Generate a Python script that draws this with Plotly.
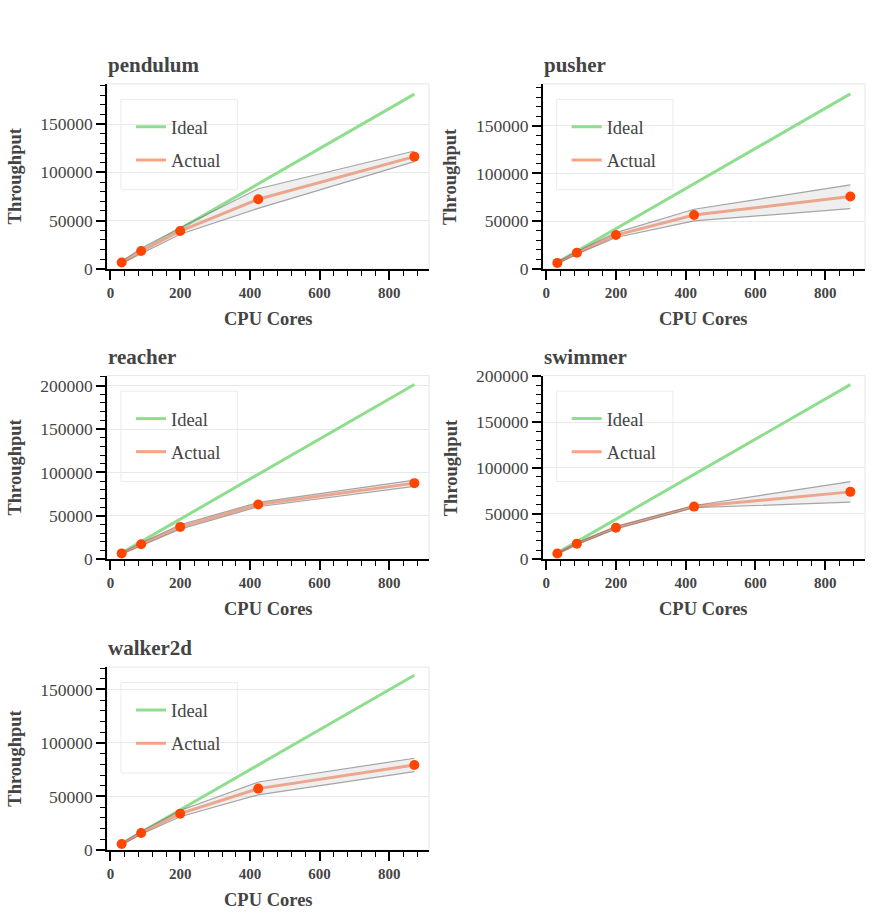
import plotly.graph_objects as go

W, H = 872, 915

cores = [32, 88, 200, 424, 872]
envs = ["pendulum", "pusher", "reacher", "swimmer", "walker2d"]

ideal_pendulum = [6650, 18290, 41560, 88100, 181100]
mean_pendulum = [6600, 18400, 39200, 72100, 116300]
upper_pendulum = [7600, 21300, 42500, 83000, 122200]
lower_pendulum = [5600, 15600, 35800, 62700, 111100]

ideal_pusher = [6730, 18520, 42080, 89230, 183500]
mean_pusher = [6200, 16800, 35400, 56500, 75800]
upper_pusher = [7000, 18200, 37900, 62500, 88100]
lower_pusher = [5400, 15400, 32800, 50200, 63200]

ideal_reacher = [7390, 20310, 46160, 97850, 201300]
mean_reacher = [6800, 17300, 37300, 63000, 87700]
upper_reacher = [7500, 18800, 39800, 65500, 91200]
lower_reacher = [6100, 15800, 34800, 60500, 84000]

ideal_swimmer = [7000, 19260, 43780, 92820, 190900]
mean_swimmer = [6400, 17100, 34600, 57600, 73700]
upper_swimmer = [7000, 17900, 36000, 58800, 85000]
lower_swimmer = [5800, 16300, 33200, 56400, 62400]

ideal_walker2d = [5990, 16480, 37450, 79410, 163300]
mean_walker2d = [5500, 15900, 33900, 57300, 79400]
upper_walker2d = [6200, 17200, 36800, 63500, 85700]
lower_walker2d = [4800, 14600, 31000, 51500, 73200]

ideals = [ideal_pendulum, ideal_pusher, ideal_reacher, ideal_swimmer, ideal_walker2d]
means = [mean_pendulum, mean_pusher, mean_reacher, mean_swimmer, mean_walker2d]
uppers = [upper_pendulum, upper_pusher, upper_reacher, upper_swimmer, upper_walker2d]
lowers = [lower_pendulum, lower_pusher, lower_reacher, lower_swimmer, lower_walker2d]

y_ranges = [[-200, 191800], [-200, 194000], [-200, 211500], [-200, 200800], [-300, 170900]]

FONT = "Liberation Serif"
TXT = "#444444"

col_x = [(107, 429), (542.7, 865)]
row_y = [(83, 268.3), (375, 559), (666.7, 850)]
positions = [(0, 0), (1, 0), (0, 1), (1, 1), (0, 2)]

# screen-to-page compensation (the page is photographed slightly squeezed vertically)
Y_OFF, Y_SCALE = 8.1, 0.98


def px_x(p):
    return p / W


def px_y(p):
    return 1 - ((p - Y_OFF) / Y_SCALE) / H


fig = go.Figure()
annotations = []
shapes = []
layout = {}

for i, name in enumerate(envs):
    c, r = positions[i]
    x0, x1 = col_x[c]
    yt, yb = row_y[r]
    sfx = "" if i == 0 else str(i + 1)
    xa, ya = "x" + sfx, "y" + sfx
    lg = "legend" + sfx

    fig.add_trace(go.Scatter(x=cores, y=ideals[i], mode="lines", name="Ideal",
                             line=dict(color="#8fde8f", width=3), xaxis=xa, yaxis=ya,
                             legend=lg, legendgroup=f"ideal{i}", hoverinfo="skip"))
    fig.add_trace(go.Scatter(x=cores, y=means[i], mode="lines", name="Actual",
                             line=dict(color="#fba283", width=3), xaxis=xa, yaxis=ya,
                             legend=lg, legendgroup=f"actual{i}", hoverinfo="skip"))
    fig.add_trace(go.Scatter(x=cores, y=uppers[i], mode="lines", showlegend=False,
                             line=dict(color="rgba(110,110,110,0.6)", width=1.2),
                             xaxis=xa, yaxis=ya, hoverinfo="skip"))
    fig.add_trace(go.Scatter(x=cores, y=lowers[i], mode="lines", showlegend=False,
                             fill="tonexty", fillcolor="rgba(180,180,180,0.22)",
                             line=dict(color="rgba(110,110,110,0.6)", width=1.2),
                             xaxis=xa, yaxis=ya, hoverinfo="skip"))
    fig.add_trace(go.Scatter(x=cores, y=means[i], mode="markers", showlegend=False,
                             marker=dict(color="#ff4500", size=10),
                             xaxis=xa, yaxis=ya, hoverinfo="skip"))

    xkey = "xaxis" + sfx
    ykey = "yaxis" + sfx
    layout[xkey] = dict(
        domain=[px_x(x0), px_x(x1)], anchor=ya, range=[-10, 914],
        tickvals=[0, 200, 400, 600, 800], ticks="outside", ticklen=9, tickwidth=1.5,
        tickcolor="black", showline=True, linecolor="black", linewidth=1.5,
        showgrid=False, zeroline=False,
        tickfont=dict(family=FONT, size=15, color=TXT, weight="bold"),
        minor=dict(dtick=40, tick0=0, ticks="outside", ticklen=5, tickwidth=1,
                   tickcolor="black", showgrid=False),
    )
    layout[ykey] = dict(
        domain=[px_y(yb), px_y(yt)], anchor=xa, range=y_ranges[i],
        dtick=50000, tick0=0, tickformat="d", ticks="outside", ticklen=9, tickwidth=1.5,
        tickcolor="black", showline=True, linecolor="black", linewidth=1.5,
        showgrid=True, gridcolor="#e8e8e8", gridwidth=1, zeroline=False,
        tickfont=dict(family=FONT, size=17.5, color=TXT),
        minor=dict(dtick=10000, tick0=0, ticks="outside", ticklen=5, tickwidth=1,
                   tickcolor="black", showgrid=False),
    )
    layout[lg] = dict(
        x=px_x(x0 + 24), y=px_y(yt + 43 - 18.5), xanchor="left", yanchor="top",
        xref="paper", yref="paper", bgcolor="rgba(0,0,0,0)", borderwidth=0,
        font=dict(family=FONT, size=18.5, color=TXT), tracegroupgap=6,
    )
    shapes.append(dict(type="rect", xref="paper", yref="paper",
                       x0=px_x(x0), x1=px_x(x1), y0=px_y(yb), y1=px_y(yt),
                       line=dict(color="#e6e6e6", width=1), layer="below"))
    shapes.append(dict(type="rect", xref="paper", yref="paper",
                       x0=px_x(x0 + 14), x1=px_x(x0 + 130.3),
                       y0=px_y(yt + 106), y1=px_y(yt + 15.5),
                       line=dict(color="#ebebeb", width=1), layer="below"))
    annotations.append(dict(text=f"<b>{name}</b>", xref="paper", yref="paper",
                            x=px_x(x0 - 1), y=px_y(yt - 19), xanchor="left", yanchor="middle",
                            showarrow=False, font=dict(family=FONT, size=21, color=TXT)))
    annotations.append(dict(text="<b>CPU Cores</b>", xref="paper", yref="paper",
                            x=px_x((x0 + x1) / 2), y=px_y(yb + 50), xanchor="center",
                            yanchor="middle", showarrow=False,
                            font=dict(family=FONT, size=18.5, color=TXT)))
    annotations.append(dict(text="<b>Throughput</b>", xref="paper", yref="paper",
                            x=px_x(x0 - 92), y=px_y((yt + yb) / 2), xanchor="center",
                            yanchor="middle", textangle=-90, showarrow=False,
                            font=dict(family=FONT, size=18.5, color=TXT)))

fig.update_layout(**layout)
fig.update_layout(
    width=W, height=H, margin=dict(l=0, r=0, t=0, b=0),
    paper_bgcolor="white", plot_bgcolor="white",
    annotations=annotations, shapes=shapes,
    font=dict(family=FONT, color=TXT),
)

fig.write_html("out.html", config={"displayModeBar": False},
               post_script="document.body.style.margin='0px';document.body.style.overflow='hidden';")
